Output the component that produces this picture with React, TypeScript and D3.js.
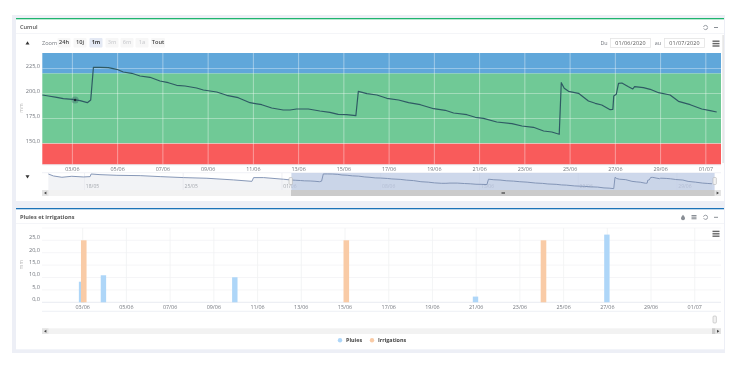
import React from "react";
import * as d3 from "d3";

const cumulDays = [1.675,1.94,2.31,2.6,3,3.34,3.66,3.81,3.93,4.22,4.59,4.96,5.25,5.62,5.99,6.43,6.87,7.24,7.61,7.98,8.49,8.79,9.38,9.82,10.33,10.85,11.37,11.81,12.32,12.62,12.91,13.43,13.94,14.38,14.75,15.12,15.53,15.64,16.02,16.46,16.9,17.42,17.86,18.38,18.97,19.48,19.85,20.44,20.81,21.17,21.76,22.43,22.87,23.38,23.83,24.19,24.52,24.61,24.74,24.93,25.37,25.81,26.11,26.4,26.77,26.89,26.93,27.04,27.14,27.29,27.58,27.77,27.85,28.24,28.54,28.91,29.42,29.79,30.31,30.82,31.19,31.48];
const cumulValues = [198.5,197.5,196.2,194.8,194.2,192.8,190.8,193.5,226.2,226.2,225.8,224.2,221.5,220.2,217.5,216.2,212.5,210.8,208.2,207.5,205.5,203.5,201.5,198.2,195.8,190.8,188.8,185.5,183.5,183.5,184.5,184.5,182.5,181.2,179.2,178.8,177.8,202.2,199.8,198.5,195.2,193.5,190.8,188.8,184.8,183.2,180.5,178.8,176.2,175.2,171.5,169.8,167.5,166.2,162.5,161.5,159.2,210.8,205.2,202.2,200.2,192.5,190.2,188.5,183.8,184.2,197.5,199.2,210.2,210.5,206.8,204.5,206.8,205.8,204.2,200.8,198.5,192.2,188.8,184.5,182.8,181.5];
const earlierDays = [-15.56,-15.2,-14.6,-13.9,-13.08,-12.6,-12.53,-11.9,-10.7,-9.05,-7.63,-5.98,-4.32,-2.43,-1.13,-1.01,-0.3,1.12];
const earlierValues = [226,217,211,215.5,212.5,214,226,223,220,218.5,214,209.5,206.5,199,192.5,209.5,209.5,202];

const zoneNames = ["blue","green","red"];
const zoneFrom = [220,150,129];
const zoneTo = [240.5,220,150];
const zoneColors = ["#60a7da","#70c996","#f95b5b"];

const topYTicks = [225,200,175,150];
const bottomYTicks = [25,20,15,10,5,0];
const tickDays = [3,5,7,9,11,13,15,17,19,21,23,25,27,29,31];
const tickLabels = ["03/06","05/06","07/06","09/06","11/06","13/06","15/06","17/06","19/06","21/06","23/06","25/06","27/06","29/06","01/07"];
const navDays = [-13,-6,1,8,15,22,29];
const navLabels = ["18/05","25/05","01/06","08/06","15/06","22/06","29/06"];

const rainDays = [2.95,3.95,9.96,20.97,26.98];
const rainValues = [8.3,10.9,10.1,2.3,27.3];
const irrigationDays = [3.05,15.06,24.08];
const irrigationValues = [25,25,25];

const zoomButtons = ["24h","10j","1m","3m","6m","1a","Tout"];
const zoomButtonX = [64,80,96,112,127,142,158];

const FONT = "'Open Sans', sans-serif";
const TXT = "#74787f";

const x1 = d3.scaleLinear().domain([1.67,31.67]).range([42.3,721]);
const y1 = d3.scaleLinear().domain([129,240.5]).range([164.5,53]);
const xn = d3.scaleLinear().domain([-15.55,31.67]).range([48.5,714.6]);
const yn = d3.scaleLinear().domain([153,230.5]).range([190,173]);
const x2 = d3.scaleLinear().domain([1.14,32.2]).range([42,721]);
const y2 = d3.scaleLinear().domain([0,30]).range([302.3,227.9]);

const cumul = cumulDays.map((d,i)=>[d,cumulValues[i]] as [number,number]);
const navSeries = [...earlierDays.map((d,i)=>[d,earlierValues[i]] as [number,number]),...cumul];
const mainLine = d3.line<[number,number]>().x(d=>x1(d[0])).y(d=>y1(d[1]));
const navLine = d3.line<[number,number]>().x(d=>xn(d[0])).y(d=>yn(d[1]));
const navArea = d3.area<[number,number]>().x(d=>xn(d[0])).y0(190).y1(d=>yn(d[1]));

const Burger = ({x,y}:{x:number;y:number}) => (
  <g fill="#666">{[0,2.4,4.8].map(o=><rect key={o} x={x} y={y+o} width={7} height={1.4}/>)}</g>
);
const Refresh = ({x,y}:{x:number;y:number}) => (
  <circle cx={x} cy={y} r={2.1} fill="none" stroke="#8a8f96" strokeWidth={0.9} strokeDasharray="5 1.5"/>
);
const Minus = ({x,y}:{x:number;y:number}) => <rect x={x-2} y={y-0.5} width={4} height={1} fill="#8a8f96"/>;
const Arrow = ({x,y,dir}:{x:number;y:number;dir:number}) => (
  <path d={`M${x-1.2*dir},${y-1.5}L${x+1.2*dir},${y}L${x-1.2*dir},${y+1.5}Z`} fill="#444"/>
);

export default function App(){
  return (
    <svg width={737} height={368} style={{position:"absolute",left:0,top:0,filter:"blur(0.45px)"}} fontFamily={FONT}>
      <rect width={737} height={368} fill="#fff"/>
      <rect x={12} y={15} width={713} height={338} fill="#edeff6"/>
      {/* top panel */}
      <rect x={16} y={18} width={708} height={183} fill="#fff"/>
      <rect x={16} y={18} width={708} height={1.3} fill="#1fb46e"/>
      <line x1={16} x2={724} y1={33.5} y2={33.5} stroke="#f4f5f8"/>
      <text x={20} y={28.5} fontSize={5.6} fontWeight={600} fill="#555">Cumul</text>
      <Refresh x={705.5} y={27.5}/><Minus x={716} y={27.5}/>
      <rect x={722.5} y={35} width={1.2} height={128} fill="#ddd"/>

      <path d="M27.5,41.2L29.5,44.4L25.5,44.4Z" fill="#333"/>
      <text x={42} y={44.5} fontSize={5.6} fill={TXT}>Zoom</text>
      {zoomButtons.map((b,i)=>{
        const active=b==="1m"; const off=["3m","6m","1a"].includes(b);
        const w=b==="Tout"?14:13;
        return <g key={b}>
          <rect x={zoomButtonX[i]-w/2} y={38} width={w} height={9.5} rx={1} fill={active?"#e4e9f4":"#f7f7f7"}/>
          <text x={zoomButtonX[i]} y={44.3} fontSize={5.6} textAnchor="middle" fontWeight={active?700:600} fill={off?"#cfd0d3":"#444"}>{b}</text>
        </g>;
      })}
      <text x={604} y={44.5} fontSize={5.4} textAnchor="middle" fill={TXT}>Du</text>
      <rect x={610.5} y={38.5} width={40} height={9} fill="#fff" stroke="#e4e4e4" strokeWidth={0.8}/>
      <text x={630.5} y={44.5} fontSize={5.4} textAnchor="middle" fill="#555" letterSpacing={0.2}>01/06/2020</text>
      <text x={658} y={44.5} fontSize={5.4} textAnchor="middle" fill={TXT}>au</text>
      <rect x={664.5} y={38.5} width={40} height={9} fill="#fff" stroke="#e4e4e4" strokeWidth={0.8}/>
      <text x={684.5} y={44.5} fontSize={5.4} textAnchor="middle" fill="#555" letterSpacing={0.2}>01/07/2020</text>
      <Burger x={712.5} y={40.5}/>

      {zoneNames.map((n,i)=>(
        <rect key={n} x={x1.range()[0]} width={x1.range()[1]-x1.range()[0]} y={y1(zoneTo[i])} height={y1(zoneFrom[i])-y1(zoneTo[i])} fill={zoneColors[i]}/>
      ))}
      {topYTicks.map(t=>(
        <g key={t}>
          <line x1={42.3} x2={721} y1={y1(t)} y2={y1(t)} stroke="#fff" strokeOpacity={0.35} strokeWidth={1}/>
          <text x={40} y={y1(t)-1} fontSize={5.6} textAnchor="end" fill={TXT}>{t.toFixed(1).replace(".",",")}</text>
        </g>
      ))}
      {tickDays.map((d,i)=>(
        <g key={d}>
          <line x1={x1(d)} x2={x1(d)} y1={53} y2={164.5} stroke="#fff" strokeOpacity={0.4} strokeWidth={1}/>
          <text x={x1(d)} y={171} fontSize={5.4} textAnchor="middle" fill={TXT}>{tickLabels[i]}</text>
        </g>
      ))}
      <line x1={42.3} x2={721} y1={164.8} y2={164.8} stroke="#e3e6ee" strokeWidth={0.8}/>
      <path d={mainLine(cumul)!} fill="none" stroke="#2f5a64" strokeWidth={1.2} strokeLinejoin="round"/>
      <circle cx={x1(3.12)} cy={y1(193.5)} r={3.6} fill="#2f5a64" fillOpacity={0.35}/>
      <circle cx={x1(3.12)} cy={y1(193.5)} r={1.2} fill="#1d2a30"/>
      <text transform="translate(23,108) rotate(-90)" fontSize={5} textAnchor="middle" fill="#bbb">mm</text>

      {/* navigator */}
      <path d="M25.5,175.2L29.5,175.2L27.5,178.4Z" fill="#333"/>
      <line x1={42} x2={721} y1={172.7} y2={172.7} stroke="#e6e9f0" strokeWidth={0.6}/>
      <path d={navArea(navSeries)!} fill="#f2f3f6"/>
      {navDays.map((d,i)=>(
        <g key={d}>
          <line x1={xn(d)} x2={xn(d)} y1={173} y2={190} stroke="#e4e6ec" strokeWidth={0.6}/>
          <text x={xn(d)+8} y={188} fontSize={5} textAnchor="middle" fill="#a4a8ae">{navLabels[i]}</text>
        </g>
      ))}
      <rect x={xn(1.67)} y={173} width={xn(31.67)-xn(1.67)} height={17} fill="#b9c7e2" fillOpacity={0.7}/>
      <path d={navLine(navSeries)!} fill="none" stroke="#7a8db0" strokeWidth={0.9}/>
      <rect x={289} y={177.5} width={3.4} height={7} rx={1} fill="#f2f2f2" stroke="#aaa" strokeWidth={0.5}/>
      <rect x={713} y={177.5} width={3.4} height={7} rx={1} fill="#f2f2f2" stroke="#aaa" strokeWidth={0.5}/>
      <rect x={42} y={190} width={679} height={6} fill="#f2f2f2"/>
      <rect x={291} y={190} width={424} height={6} fill="#cbcbcb"/>
      <rect x={42} y={190} width={6.5} height={6} fill="#e4e4e4"/>
      <rect x={714.5} y={190} width={6.5} height={6} fill="#e4e4e4"/>
      <Arrow x={45.2} y={193} dir={-1}/><Arrow x={717.8} y={193} dir={1}/>
      <rect x={501.5} y={192} width={3.5} height={2} fill="#777"/>

      {/* bottom panel */}
      <rect x={16} y={208} width={708} height={141.3} fill="#fff"/>
      <rect x={16} y={208} width={708} height={1.3} fill="#1b73b8"/>
      <line x1={16} x2={724} y1={223.5} y2={223.5} stroke="#f4f5f8"/>
      <text x={20} y={218.5} fontSize={5.6} fontWeight={700} fill="#555">Pluies et irrigations</text>
      <path d="M683,214.8C684.6,216.8 685,217.6 685,218.2A2,2 0 0 1 681,218.2C681,217.6 681.4,216.8 683,214.8Z" fill="#8a8f96"/>
      <g fill="#8a8f96">{[0,1.6,3.2].map(o=><rect key={o} x={691.5} y={215+o} width={5} height={1.1}/>)}</g>
      <Refresh x={705.5} y={217.3}/><Minus x={716} y={217.3}/>
      <Burger x={712.5} y={230.7}/>

      <line x1={42} x2={721} y1={228} y2={228} stroke="#f5f5f7" strokeWidth={0.8}/>
      {bottomYTicks.map(t=>(
        <g key={t}>
          <line x1={42} x2={721} y1={y2(t)} y2={y2(t)} stroke={t===0?"#e3e6ee":"#f2f3f5"} strokeWidth={0.8}/>
          <text x={40} y={y2(t)-1.2} fontSize={5.6} textAnchor="end" fill={TXT}>{t.toFixed(1).replace(".",",")}</text>
        </g>
      ))}
      {tickDays.map((d,i)=>(
        <g key={d}>
          <line x1={x2(d)} x2={x2(d)} y1={228} y2={302.3} stroke="#f0f1f3" strokeWidth={0.8}/>
          <text x={x2(d)} y={308.5} fontSize={5.4} textAnchor="middle" fill={TXT}>{tickLabels[i]}</text>
        </g>
      ))}
      <text transform="translate(23,264.5) rotate(-90)" fontSize={5} textAnchor="middle" fill="#bbb">mm</text>
      {rainDays.map((d,i)=>(
        <rect key={d} x={x2(d)-2.7} y={y2(rainValues[i])} width={5.4} height={302.3-y2(rainValues[i])} fill="#aed6f8"/>
      ))}
      {irrigationDays.map((d,i)=>(
        <rect key={d} x={x2(d)-2.8} y={y2(irrigationValues[i])} width={5.6} height={302.3-y2(irrigationValues[i])} fill="#f9cba6"/>
      ))}
      <line x1={42} x2={721} y1={311.3} y2={311.3} stroke="#e6e9f0" strokeWidth={0.7}/>
      <rect x={713} y={316} width={3.4} height={7} rx={1} fill="#f2f2f2" stroke="#aaa" strokeWidth={0.5}/>
      <rect x={42} y={328.3} width={679} height={5.7} fill="#f2f2f2"/>
      <rect x={42} y={328.3} width={6.5} height={5.7} fill="#e4e4e4"/>
      <rect x={712} y={328.3} width={3.5} height={5.7} fill="#cbcbcb"/>
      <rect x={715.5} y={328.3} width={5.5} height={5.7} fill="#e4e4e4"/>
      <Arrow x={45.2} y={331.2} dir={-1}/><Arrow x={718.2} y={331.2} dir={1}/>
      <circle cx={340} cy={340.2} r={2.2} fill="#aed6f8"/>
      <text x={346} y={342.2} fontSize={5.4} fontWeight={700} fill="#444">Pluies</text>
      <circle cx={372} cy={340.2} r={2.2} fill="#f9cba6"/>
      <text x={378} y={342.2} fontSize={5.4} fontWeight={700} fill="#444">Irrigations</text>
    </svg>
  );
}
